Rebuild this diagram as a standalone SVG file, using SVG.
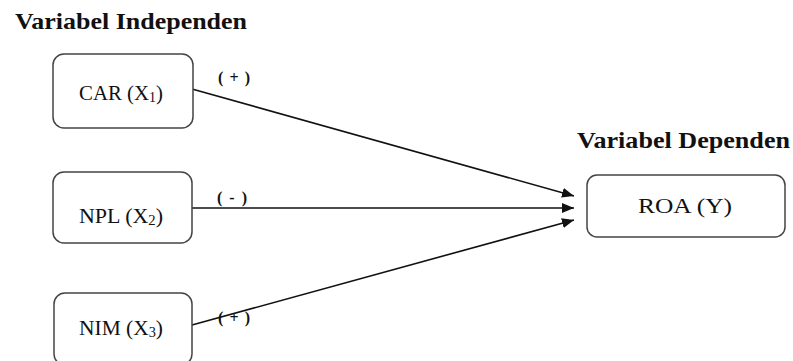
<svg xmlns="http://www.w3.org/2000/svg" width="793" height="361" viewBox="0 0 793 361">
<style>
.box{fill:#fff;stroke:#444;stroke-width:1.5}
.t{font-family:"Liberation Serif",serif;font-size:21px;fill:#111}
.h{font-family:"Liberation Serif",serif;font-size:23px;font-weight:bold;fill:#111}
.e{font-family:"Liberation Serif",serif;font-size:16px;font-weight:bold;fill:#111}
.ln{stroke:#111;stroke-width:1.6;fill:none;marker-end:url(#ah)}
</style>
<defs>
<marker id="ah" viewBox="0 0 12 10" refX="12" refY="5" markerWidth="12" markerHeight="10" markerUnits="userSpaceOnUse" orient="auto">
<path d="M0,0 L12,5 L0,10 z" fill="#111"/>
</marker>
</defs>
<text class="h" x="15" y="29" textLength="232" lengthAdjust="spacingAndGlyphs">Variabel Independen</text>
<text class="h" x="577" y="148" textLength="213" lengthAdjust="spacingAndGlyphs">Variabel Dependen</text>
<g id="connectors">
<line class="ln" x1="192" y1="89" x2="574" y2="196"/>
<line class="ln" x1="192" y1="208" x2="574" y2="208"/>
<line class="ln" x1="192" y1="325" x2="574" y2="220"/>
<text class="e" x="218" y="83" textLength="32" lengthAdjust="spacing">( + )</text>
<text class="e" x="217" y="203" textLength="30" lengthAdjust="spacing">( - )</text>
<text class="e" x="218" y="323" textLength="32" lengthAdjust="spacing">( + )</text>
</g>
<g id="car">
<rect class="box" x="53" y="54" width="140" height="74" rx="11"/>
<text class="t" x="79" y="100" textLength="84" lengthAdjust="spacingAndGlyphs">CAR (X<tspan font-size="14" dy="2">1</tspan><tspan dy="-2">)</tspan></text>
</g>
<g id="npl">
<rect class="box" x="53" y="172" width="139" height="71" rx="11"/>
<text class="t" x="79" y="223" textLength="84" lengthAdjust="spacingAndGlyphs">NPL (X<tspan font-size="14" dy="2">2</tspan><tspan dy="-2">)</tspan></text>
</g>
<g id="nim">
<rect class="box" x="54" y="293" width="138" height="72" rx="11"/>
<text class="t" x="79" y="335" textLength="84" lengthAdjust="spacingAndGlyphs">NIM (X<tspan font-size="14" dy="2">3</tspan><tspan dy="-2">)</tspan></text>
</g>
<g id="roa">
<rect class="box" x="587" y="175" width="198" height="62" rx="10"/>
<text class="t" x="638" y="213" textLength="94" lengthAdjust="spacingAndGlyphs">ROA (Y)</text>
</g>
</svg>
